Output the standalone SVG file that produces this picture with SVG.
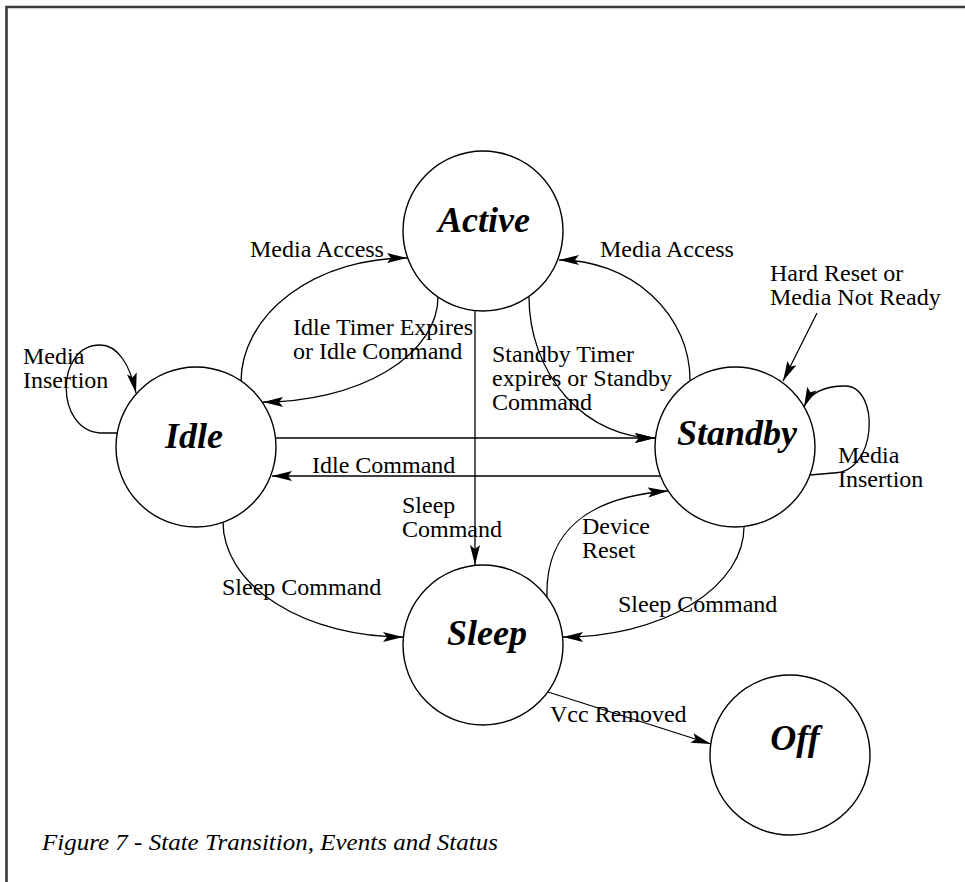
<svg xmlns="http://www.w3.org/2000/svg" width="965" height="882" viewBox="0 0 965 882">
<style>
.state{fill:#fff;stroke:#000;stroke-width:1.4}
.name{font-family:"Liberation Serif","Times New Roman",serif;font-weight:bold;font-style:italic;font-size:36px;fill:#000;text-anchor:middle}
.lbl{font-family:"Liberation Serif","Times New Roman",serif;font-size:24px;fill:#000}
.cap{font-family:"Liberation Serif","Times New Roman",serif;font-style:italic;font-size:23px;fill:#000}
.edge{fill:none;stroke:#000;stroke-width:1.3;marker-end:url(#arr)}
.frame{fill:none;stroke:#3a3a3a;stroke-width:2.6}
</style>
<defs>
<marker id="arr" markerUnits="userSpaceOnUse" markerWidth="20" markerHeight="12" refX="20" refY="6" orient="auto">
<path d="M0,1 L20,6 L0,11 L4,6 z" fill="#000"/>
</marker>
</defs>
<rect width="965" height="882" fill="#fff"/>
<path class="frame" d="M6.5,882 V7 H965"/>

<g id="connectors">
<path id="e-idle-active" class="edge" d="M241,382 A166,124 0 0 1 407,258"/>
<path id="e-active-idle" class="edge" d="M438,297 A175,105 0 0 1 263,402"/>
<path id="e-active-standby" class="edge" d="M529,297 A126,141 0 0 0 655,438"/>
<path id="e-idle-standby" class="edge" d="M276,438 H655"/>
<path id="e-standby-idle" class="edge" d="M660,476 H272"/>
<path id="e-standby-active" class="edge" d="M690,380 A131,120 0 0 0 559,260"/>
<path id="e-active-sleep" class="edge" d="M475,311 V565"/>
<path id="e-hardreset" class="edge" d="M817,313 L783,381"/>
<path id="e-standby-loop" class="edge" d="M810,475 L833,473 C878,473 880,386 845,386 C825,386 810,393 804,407"/>
<path id="e-idle-loop" class="edge" d="M117,433 L100,433 C55,430 55,345 100,345 C118,345 130,365 136,393"/>
<path id="e-idle-sleep" class="edge" d="M223,522 A180,115 0 0 0 403,637"/>
<path id="e-standby-sleep" class="edge" d="M744,527 A181,110 0 0 1 563,637"/>
<path id="e-sleep-standby" class="edge" d="M547,597 C545,530 590,497 668,491"/>
<path id="e-sleep-off" class="edge" d="M548,692 L711,744"/>
</g>

<g id="edge-labels">
<text class="lbl" x="250" y="257">Media Access</text>
<text class="lbl" x="600" y="257">Media Access</text>
<text class="lbl" x="293" y="335">Idle Timer Expires</text>
<text class="lbl" x="293" y="359">or Idle Command</text>
<text class="lbl" x="492" y="362">Standby Timer</text>
<text class="lbl" x="492" y="386">expires or Standby</text>
<text class="lbl" x="492" y="410">Command</text>
<text class="lbl" x="770" y="281">Hard Reset or</text>
<text class="lbl" x="770" y="305">Media Not Ready</text>
<text class="lbl" x="23" y="364">Media</text>
<text class="lbl" x="23" y="388">Insertion</text>
<text class="lbl" x="838" y="463">Media</text>
<text class="lbl" x="838" y="487">Insertion</text>
<text class="lbl" x="312" y="473">Idle Command</text>
<text class="lbl" x="402" y="513">Sleep</text>
<text class="lbl" x="402" y="537">Command</text>
<text class="lbl" x="222" y="595">Sleep Command</text>
<text class="lbl" x="582" y="534">Device</text>
<text class="lbl" x="582" y="558">Reset</text>
<text class="lbl" x="618" y="612">Sleep Command</text>
<text class="lbl" x="550" y="722">Vcc Removed</text>
</g>

<g id="node-active">
<circle class="state" cx="483" cy="231" r="80"/>
<text class="name" x="484" y="232">Active</text>
</g>
<g id="node-idle">
<circle class="state" cx="196" cy="447" r="80"/>
<text class="name" x="194" y="448">Idle</text>
</g>
<g id="node-standby">
<circle class="state" cx="735" cy="447" r="80"/>
<text class="name" x="737" y="445">Standby</text>
</g>
<g id="node-sleep">
<circle class="state" cx="483" cy="645" r="80"/>
<text class="name" x="487" y="645">Sleep</text>
</g>
<g id="node-off">
<circle class="state" cx="790" cy="755" r="80"/>
<text class="name" x="795" y="750">Off</text>
</g>

<text id="caption" class="cap" x="42" y="850" textLength="456" lengthAdjust="spacingAndGlyphs">Figure 7 - State Transition, Events and Status</text>
</svg>
